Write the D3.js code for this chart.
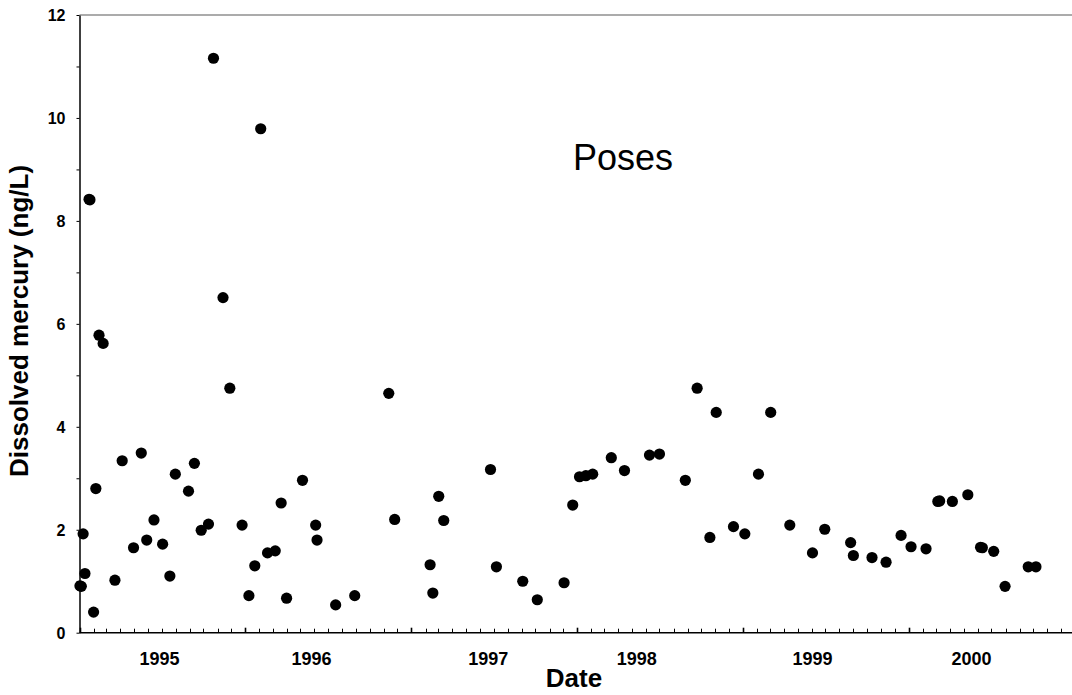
<!DOCTYPE html>
<html lang="en">
<head>
    <meta charset="UTF-8">
    <title>Dissolved mercury - Poses</title>
    <script src="https://d3js.org/d3.v7.min.js"></script>
    <style>
        body { margin: 0; background: #fff; }
        text { font-family: Arial, "Liberation Sans", sans-serif; fill: #000; }
    </style>
</head>
<body>
    <svg width="1072" height="695"></svg>

    <script>
        // sample dates and dissolved mercury (ng/L)
        var sampleDates = [
            "1995-01-02", "1995-01-05", "1995-01-09", "1995-01-13", "1995-01-22", "1995-01-24",
            "1995-02-01", "1995-02-06", "1995-02-13", "1995-02-22", "1995-03-20", "1995-04-05",
            "1995-04-30", "1995-05-17", "1995-05-29", "1995-06-14", "1995-07-03", "1995-07-19",
            "1995-07-31", "1995-08-29", "1995-09-11", "1995-09-26", "1995-10-12", "1995-10-23",
            "1995-11-13", "1995-11-28", "1995-12-25", "1996-01-09", "1996-01-22", "1996-02-04",
            "1996-02-19", "1996-03-07", "1996-03-20", "1996-04-01", "1996-05-06", "1996-06-04",
            "1996-06-07", "1996-07-18", "1996-08-29", "1996-11-12", "1996-11-25", "1997-02-11",
            "1997-02-17", "1997-03-02", "1997-03-13", "1997-06-24", "1997-07-07", "1997-09-03",
            "1997-10-05", "1997-12-03", "1997-12-22", "1998-01-06", "1998-01-20", "1998-02-04",
            "1998-03-17", "1998-04-15", "1998-06-09", "1998-07-01", "1998-08-27", "1998-09-22",
            "1998-10-20", "1998-11-03", "1998-12-11", "1999-01-05", "1999-02-04", "1999-03-03",
            "1999-04-14", "1999-06-03", "1999-06-30", "1999-08-26", "1999-09-01", "1999-10-12",
            "1999-11-12", "1999-12-15", "2000-01-06", "2000-02-08", "2000-03-05", "2000-03-09",
            "2000-04-06", "2000-05-10", "2000-06-07", "2000-06-11", "2000-07-06", "2000-07-31",
            "2000-09-20", "2000-10-07"
        ];
        var mercury = [
            0.91, 0.90, 1.92, 1.15, 8.42, 8.41,
            0.40, 2.80, 5.78, 5.62, 1.02, 3.34,
            1.65, 3.49, 1.80, 2.19, 1.72, 1.10,
            3.08, 2.75, 3.29, 1.99, 2.11, 11.16,
            6.51, 4.75, 2.09, 0.72, 1.30, 9.79,
            1.55, 1.59, 2.52, 0.67, 2.96, 2.09,
            1.80, 0.54, 0.72, 4.65, 2.20, 1.32,
            0.77, 2.65, 2.18, 3.17, 1.28, 1.00,
            0.64, 0.97, 2.48, 3.03, 3.05, 3.08,
            3.40, 3.15, 3.45, 3.47, 2.96, 4.75,
            1.85, 4.28, 2.06, 1.92, 3.08, 4.28,
            2.09, 1.55, 2.01, 1.75, 1.50, 1.46,
            1.37, 1.89, 1.67, 1.63, 2.55, 2.56,
            2.55, 2.68, 1.66, 1.65, 1.58, 0.90,
            1.28, 1.28
        ];

        // axis labels
        var yTicks = [0, 2, 4, 6, 8, 10, 12];
        var yearLabels = ["1995", "1996", "1997", "1998", "1999", "2000"];
        var yearLabelDates = ["1995-06-26", "1996-05-26", "1997-06-19", "1998-05-12", "1999-06-03", "2000-05-18"];

        var svg = d3.select("svg");
        var plotLeft = 79.5, plotTop = 15, plotBottom = 632.7, plotRight = 1072;

        var parse = d3.timeParse("%Y-%m-%d");

        var x = d3.scaleTime()
            .domain([parse("1995-01-01"), parse("2001-01-01")])
            .range([plotLeft, 1075]);

        var y = d3.scaleLinear()
            .domain([0, 12])
            .range([plotBottom, plotTop]);

        // grey line on top of the plot
        svg.append("line")
            .attr("x1", plotLeft).attr("x2", plotRight)
            .attr("y1", plotTop).attr("y2", plotTop)
            .attr("stroke", "#ababab")
            .attr("stroke-width", 2);

        // y axis: labels at even values, small ticks every unit
        var yAxis = svg.append("g")
            .attr("transform", "translate(" + plotLeft + ",0)")
            .call(d3.axisLeft(y).tickValues(d3.range(0, 13, 1)).tickSize(3).tickSizeOuter(0)
                .tickFormat(function(d) { return yTicks.indexOf(d) >= 0 ? d : ""; }));
        yAxis.select(".domain").attr("stroke", "#000").attr("stroke-width", 1.5);
        yAxis.selectAll(".tick line").attr("stroke", "#000");
        yAxis.selectAll(".tick text")
            .attr("x", -14)
            .attr("dy", "0.36em")
            .style("font-size", "16px")
            .style("font-weight", "bold")
            .style("font-family", "Arial, 'Liberation Sans', sans-serif");

        // x axis: monthly ticks pointing into the plot
        var months = d3.timeMonth.range(parse("1995-01-01"), parse("2001-01-01"))
            .filter(function(d) { return x(d) <= plotRight; });
        var xAxis = svg.append("g")
            .attr("transform", "translate(0," + plotBottom + ")");
        xAxis.append("line")
            .attr("x1", plotLeft).attr("x2", plotRight)
            .attr("stroke", "#000")
            .attr("stroke-width", 1.5);
        xAxis.selectAll("line.tick")
            .data(months)
            .enter()
            .append("line")
            .attr("class", "tick")
            .attr("x1", function(d) { return Math.round(x(d)) + 0.5; })
            .attr("x2", function(d) { return Math.round(x(d)) + 0.5; })
            .attr("y1", 0)
            .attr("y2", function(d) { return d.getMonth() === 0 ? -5 : -4; })
            .attr("stroke", "#000")
            .attr("stroke-width", function(d) { return d.getMonth() === 0 ? 1.6 : 1; });

        xAxis.selectAll("text.year")
            .data(yearLabels)
            .enter()
            .append("text")
            .attr("class", "year")
            .attr("x", function(d, i) { return x(parse(yearLabelDates[i])); })
            .attr("y", 32)
            .attr("text-anchor", "middle")
            .style("font-size", "18px")
            .style("font-weight", "bold")
            .text(function(d) { return d; });

        // points
        svg.append("g")
            .selectAll("circle")
            .data(mercury)
            .enter()
            .append("circle")
            .attr("cx", function(d, i) { return x(parse(sampleDates[i])); })
            .attr("cy", function(d) { return y(d); })
            .attr("r", 5.6)
            .attr("fill", "#000");

        // titles
        svg.append("text")
            .attr("x", 574)
            .attr("y", 687)
            .attr("text-anchor", "middle")
            .style("font-size", "26px")
            .style("font-weight", "bold")
            .text("Date");

        svg.append("text")
            .attr("transform", "translate(28,321) rotate(-90)")
            .attr("text-anchor", "middle")
            .style("font-size", "26px")
            .style("font-weight", "bold")
            .text("Dissolved mercury (ng/L)");

        svg.append("text")
            .attr("x", 573)
            .attr("y", 170)
            .style("font-size", "36px")
            .text("Poses");
    </script>
</body>
</html>
